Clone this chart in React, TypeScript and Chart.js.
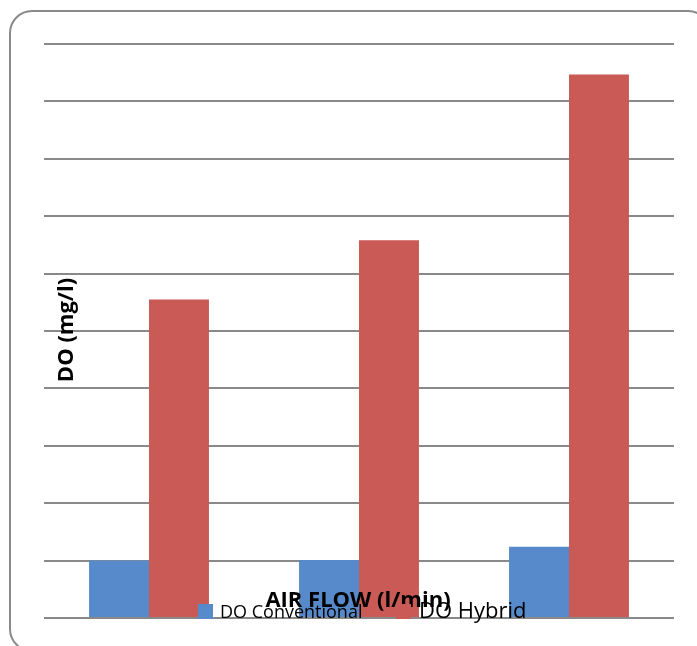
import React, { useEffect, useRef } from "react";
import { Chart, registerables } from "chart.js";

Chart.register(...registerables);

const categories = ["Low", "Medium", "High"];
const doConventional = [1.0, 1.01, 1.24];
const doHybrid = [5.55, 6.58, 9.47];
const seriesLabels = ["DO Conventional", "DO Hybrid"];
const seriesColors = ["#578ACA", "#CA5A55"];
const xTitle = "AIR FLOW (l/min)";
const yTitle = "DO (mg/l)";

const FONT = "'Open Sans', 'DejaVu Sans', sans-serif";

const decorPlugin = {
  id: "decor",
  beforeDraw(chart: any) {
    const ctx = chart.ctx as CanvasRenderingContext2D;
    ctx.save();
    ctx.fillStyle = "#ffffff";
    ctx.fillRect(0, 0, chart.width, chart.height);
    ctx.strokeStyle = "#8a8a8a";
    ctx.lineWidth = 2;
    const x = 10, y = 11, w = 700, h = 640, r = 22;
    ctx.beginPath();
    ctx.moveTo(x + r, y);
    ctx.lineTo(x + w - r, y);
    ctx.arcTo(x + w, y, x + w, y + r, r);
    ctx.lineTo(x + w, y + h - r);
    ctx.arcTo(x + w, y + h, x + w - r, y + h, r);
    ctx.lineTo(x + r, y + h);
    ctx.arcTo(x, y + h, x, y + h - r, r);
    ctx.lineTo(x, y + r);
    ctx.arcTo(x, y, x + r, y, r);
    ctx.closePath();
    ctx.stroke();
    ctx.restore();
  },
  afterDraw(chart: any) {
    const ctx = chart.ctx as CanvasRenderingContext2D;
    ctx.save();
    // y title
    ctx.fillStyle = "#000000";
    ctx.font = `bold 22px ${FONT}`;
    ctx.textAlign = "center";
    ctx.textBaseline = "middle";
    ctx.translate(67, 330);
    ctx.rotate(-Math.PI / 2);
    ctx.fillText(yTitle, 0, 0);
    ctx.restore();

    ctx.save();
    // x title
    ctx.fillStyle = "#000000";
    ctx.font = `bold 22px ${FONT}`;
    ctx.textAlign = "center";
    ctx.textBaseline = "alphabetic";
    ctx.fillText(xTitle, 358, 607);

    // legend
    const items = [
      { sx: 198, sy: 604, tx: 220, size: 18 },
      { sx: 396, sy: 604, tx: 419, size: 22 },
    ];
    chart.data.datasets.forEach((ds: any, i: number) => {
      const it = items[i];
      ctx.fillStyle = ds.backgroundColor;
      ctx.fillRect(it.sx, it.sy, 15, 15);
      ctx.fillStyle = "#000000";
      ctx.font = `${it.size}px ${FONT}`;
      ctx.textAlign = "left";
      ctx.textBaseline = "alphabetic";
      ctx.fillText(ds.label, it.tx, 618);
    });
    ctx.restore();
  },
};

export default function App() {
  const ref = useRef<HTMLCanvasElement>(null);
  useEffect(() => {
    if (!ref.current) return;
    const chart = new Chart(ref.current, {
      type: "bar",
      data: {
        labels: categories,
        datasets: [
          { label: seriesLabels[0], data: doConventional, backgroundColor: seriesColors[0] },
          { label: seriesLabels[1], data: doHybrid, backgroundColor: seriesColors[1] },
        ],
      },
      options: {
        responsive: false,
        animation: false,
        devicePixelRatio: 1,
        layout: { padding: { left: 44, top: 44, right: 23, bottom: 28 } },
        datasets: { bar: { categoryPercentage: 0.571, barPercentage: 1 } },
        plugins: { legend: { display: false }, tooltip: { enabled: false }, title: { display: false } },
        scales: {
          x: { display: false, offset: true },
          y: {
            min: 0,
            max: 10,
            ticks: { display: false, stepSize: 1 },
            grid: { color: "#898989", lineWidth: 2, drawTicks: false },
            border: { display: false },
          },
        },
      },
      plugins: [decorPlugin],
    });
    return () => chart.destroy();
  }, []);
  return (
    <div style={{ position: "absolute", left: 0, top: 0, width: 697, height: 646 }}>
      <canvas ref={ref} width={697} height={646} style={{ width: 697, height: 646 }} />
    </div>
  );
}
